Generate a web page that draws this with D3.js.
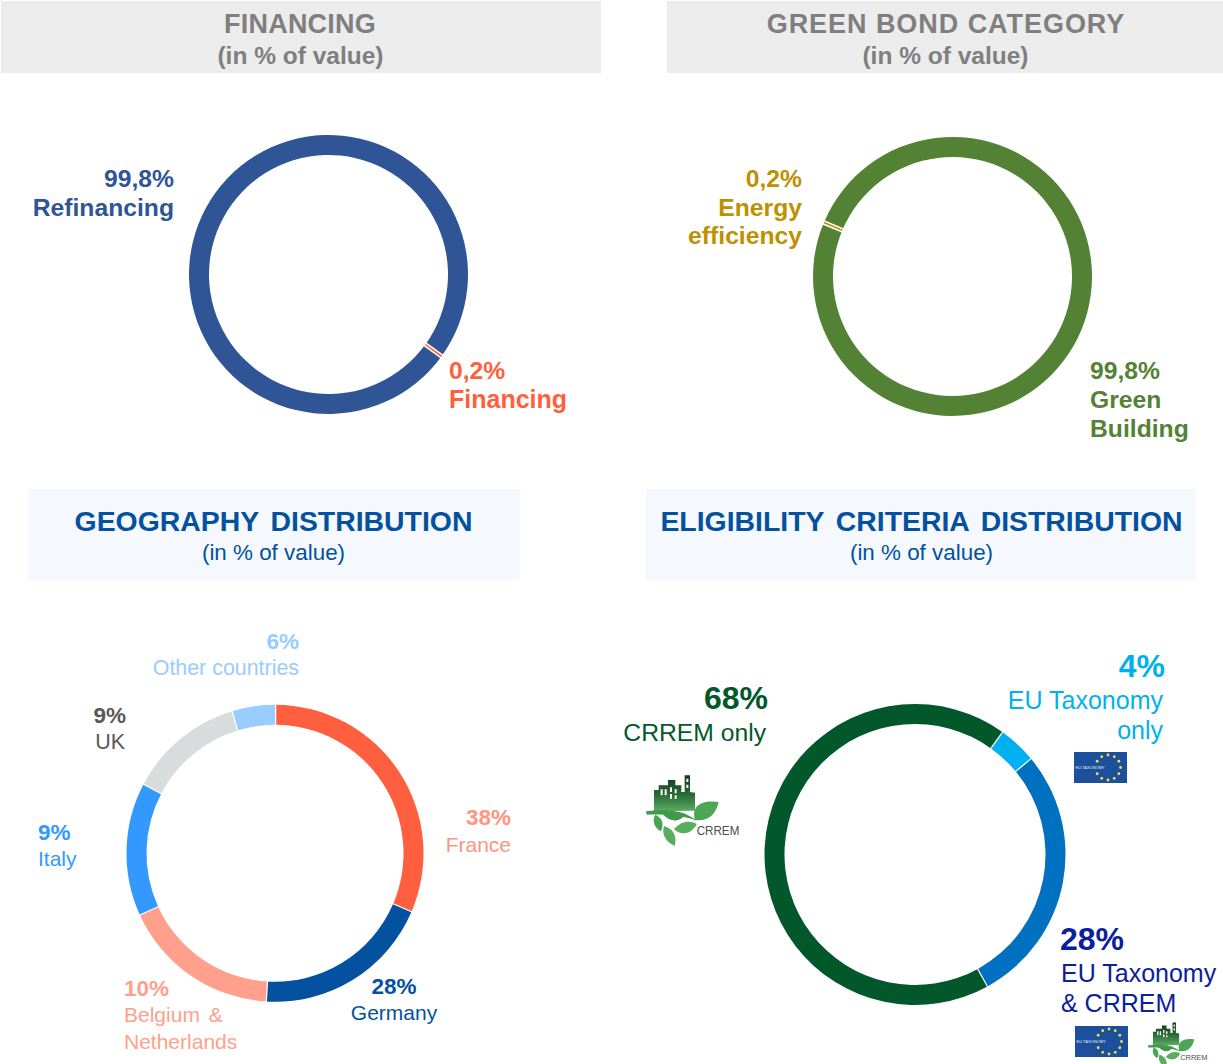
<!DOCTYPE html>
<html>
<head>
<meta charset="utf-8">
<script src="https://cdn.jsdelivr.net/npm/d3@7"></script>
<style>
  html, body { margin: 0; padding: 0; background: #fff; }
  svg { display: block; }
  text { font-family: "Liberation Sans", Arial, sans-serif; }
</style>
</head>
<body>
<script>
// Financing
var financingLabels = ["Financing", "Refinancing"];
var financingValues = [0.2, 99.8];
var financingColors = ["#ff5f3f", "#2f5597"];

// Green bond category
var categoryLabels = [["Energy", "efficiency"], ["Green", "Building"]];
var categoryValues = [0.2, 99.8];
var categoryColors = ["#bf9000", "#548235"];

// Geography: printed percentages and the share of the ring each arc takes in the picture
var geoLabels = ["France", "Germany", "Belgium &", "Netherlands", "Italy", "UK", "Other countries"];
var geoPrinted = [38, 28, 10, 9, 9, 6];
var geoArcShare = [31.5, 19.5, 17.25, 14.5, 12.65, 4.6];
var geoColors = ["#ff5f3f", "#03519f", "#ff9f8c", "#3399ff", "#d9dcdc", "#99ccff"];

// Eligibility criteria
var criteriaLabels = ["CRREM only", "EU Taxonomy", "only", "& CRREM"];
var criteriaValues = [68, 4, 28];
var criteriaColors = ["#03582b", "#00b0f0", "#0070c0"];

var svg = d3.select("body").append("svg").attr("width", 1223).attr("height", 1064);

var defs = svg.append("defs");
var grad = defs.append("linearGradient").attr("id", "crremGrad")
  .attr("x1", 0).attr("y1", 0).attr("x2", 0).attr("y2", 1);
grad.append("stop").attr("offset", "0%").attr("stop-color", "#0f3a1c");
grad.append("stop").attr("offset", "55%").attr("stop-color", "#2c6b38");
grad.append("stop").attr("offset", "100%").attr("stop-color", "#5cae62");

function panel(x, y, w, h, fill) {
  svg.append("rect").attr("x", x).attr("y", y).attr("width", w).attr("height", h).attr("fill", fill);
}

function txt(x, y, anchor, color, size, weight, s) {
  return svg.append("text")
    .attr("x", x).attr("y", y)
    .attr("text-anchor", anchor)
    .attr("fill", color)
    .attr("font-size", size)
    .attr("font-weight", weight)
    .text(s);
}

// stroke = white line painted under each slice, which opens the gaps between arcs
function ring(cx, cy, R, values, colors, startDeg, stroke) {
  var pie = d3.pie().sort(null)
    .startAngle(startDeg * Math.PI / 180)
    .endAngle((startDeg + 360) * Math.PI / 180);
  var arc = d3.arc().innerRadius(R - 20).outerRadius(R);
  var slices = pie(values);
  // biggest first, so the thin slice keeps its white edges
  slices.sort(function(a, b) { return b.value - a.value; });
  svg.append("g")
    .attr("transform", "translate(" + cx + "," + cy + ")")
    .selectAll("path")
    .data(slices)
    .enter().append("path")
    .attr("d", arc)
    .attr("fill", function(d) { return colors[d.index]; })
    .attr("stroke", "#fff")
    .attr("stroke-width", stroke)
    .style("paint-order", "stroke");
}

function euFlag(x, y) {
  var g = svg.append("g").attr("transform", "translate(" + x + "," + y + ")");
  g.append("rect").attr("width", 53).attr("height", 31).attr("fill", "#1c4f9c");
  g.selectAll("circle")
    .data(d3.range(12).filter(function(i) { return i != 9; }))
    .enter().append("circle")
    .attr("cx", function(i) { return 34 + 12.5 * Math.sin(i * Math.PI / 6); })
    .attr("cy", function(i) { return 15.5 - 12.5 * Math.cos(i * Math.PI / 6); })
    .attr("r", 1.4)
    .attr("fill", "#f3e23c");
  g.append("text").attr("x", 1.5).attr("y", 16.5)
    .attr("font-size", 4).attr("fill", "#e8eef8").text("EU TAXONOMY");
}

// drawn on a 330x240 grid, then scaled down
function crremLogo(x, y, k) {
  var g = svg.append("g").attr("transform", "translate(" + x + "," + y + ") scale(" + k + ")");
  g.append("path").attr("fill", "url(#crremGrad)")
    .attr("fill-rule", "evenodd")
    .attr("d", "M42 60 L56 60 L56 46 L84 46 L84 30 L106 30 L106 46 L124 46 L124 66 L134 66 L134 16 L150 16 L150 66 L165 68 L165 122 L42 124 Z" +
      "M62 58 h6 v18 h-6 Z M74 58 h6 v18 h-6 Z M90 52 h6 v14 h-6 Z M90 72 h6 v14 h-6 Z M104 58 h6 v12 h-6 Z M104 76 h6 v10 h-6 Z M139 26 h6 v10 h-6 Z M139 44 h6 v10 h-6 Z");
  g.append("path").attr("fill", "#3f9a4c")
    .attr("d", "M18 124 C60 118 130 116 170 152 C130 136 70 132 20 134 Z");
  g.append("path").attr("fill", "#4da654")
    .attr("d", "M165 150 C152 108 185 88 236 96 C228 134 202 156 165 150 Z");
  g.append("path").attr("fill", "#3f9a4c")
    .attr("d", "M68 132 C90 120 118 124 136 132 C122 158 88 158 68 132 Z");
  g.append("path").attr("fill", "#49a352")
    .attr("d", "M46 134 C66 142 74 162 62 184 C42 172 36 152 46 134 Z");
  g.append("path").attr("fill", "#58ad5f")
    .attr("d", "M102 178 C122 152 150 150 170 162 C156 192 124 198 102 178 Z");
  g.append("path").attr("fill", "#58ad5f")
    .attr("d", "M72 168 C100 176 112 198 104 228 C78 216 64 194 72 168 Z");
  g.append("text").attr("x", 170).attr("y", 194)
    .attr("font-size", 38).attr("fill", "#4a4f4d")
    .attr("textLength", 128).attr("lengthAdjust", "spacingAndGlyphs")
    .text("CRREM");
}

// header panels
panel(1, 1, 600, 72, "#ececec");
panel(667, 1, 556, 72, "#ececec");
panel(28, 489, 492, 91, "#f5f9fe");
panel(646, 489, 550, 91, "#f5f9fe");

txt(300, 33, "middle", "#7f7f7f", 27, "bold", "FINANCING").style("letter-spacing", "0.2px");
txt(300.5, 64, "middle", "#7f7f7f", 24.5, "bold", "(in % of value)");
txt(946, 33, "middle", "#7f7f7f", 27, "bold", "GREEN BOND CATEGORY").style("letter-spacing", "0.95px");
txt(945.5, 64, "middle", "#7f7f7f", 24.5, "bold", "(in % of value)");

txt(273.5, 531, "middle", "#03519f", 28.4, "bold", "GEOGRAPHY DISTRIBUTION").style("word-spacing", "4px");
txt(273.5, 560, "middle", "#03519f", 22.4, "normal", "(in % of value)");
txt(921.5, 531, "middle", "#03519f", 28.4, "bold", "ELIGIBILITY CRITERIA DISTRIBUTION").style("word-spacing", "4px");
txt(921.5, 560, "middle", "#03519f", 22.4, "normal", "(in % of value)");

// rings
ring(328.5, 274.5, 139.5, financingValues, financingColors, 125.5, 3);
ring(952.5, 276.5, 139.5, categoryValues, categoryColors, 292.4, 3);
ring(275, 853.3, 148.5, geoArcShare, geoColors, 0, 2.5);
ring(915, 854.5, 150.5, criteriaValues, criteriaColors, 151, 2.5);

// financing labels
txt(174, 187, "end", financingColors[1], 24.7, "bold", "99,8%");
txt(174, 216, "end", financingColors[1], 24.7, "bold", financingLabels[1]);
txt(449, 379, "start", financingColors[0], 24.7, "bold", "0,2%");
txt(449, 408, "start", financingColors[0], 25, "bold", financingLabels[0]);

// green bond labels
txt(802, 187, "end", categoryColors[0], 24.7, "bold", "0,2%");
txt(802, 216, "end", categoryColors[0], 24.7, "bold", categoryLabels[0][0]);
txt(802, 244, "end", categoryColors[0], 24.7, "bold", categoryLabels[0][1]);
txt(1090, 379, "start", categoryColors[1], 24.7, "bold", "99,8%");
txt(1090, 408, "start", categoryColors[1], 24.7, "bold", categoryLabels[1][0]);
txt(1090, 437, "start", categoryColors[1], 24.7, "bold", categoryLabels[1][1]);

// geography labels
var fmt = function(v) { return v + "%"; };
txt(511, 825, "end", "#ff9482", 22.5, "bold", fmt(geoPrinted[0]));
txt(511, 852, "end", "#ff9482", 21, "normal", geoLabels[0]);
txt(394, 994, "middle", geoColors[1], 22.5, "bold", fmt(geoPrinted[1]));
txt(394, 1020, "middle", geoColors[1], 21, "normal", geoLabels[1]);
txt(124, 996, "start", geoColors[2], 22.5, "bold", fmt(geoPrinted[2]));
txt(124, 1022, "start", geoColors[2], 21, "normal", geoLabels[2]).style("word-spacing", "3px");
txt(124, 1049, "start", geoColors[2], 21, "normal", geoLabels[3]);
txt(38, 840, "start", geoColors[3], 22.5, "bold", fmt(geoPrinted[3]));
txt(38, 866, "start", geoColors[3], 21, "normal", geoLabels[4]);
txt(126, 723, "end", "#595959", 22.5, "bold", fmt(geoPrinted[4]));
txt(125, 749, "end", "#595959", 21.5, "normal", geoLabels[5]);
txt(299, 649, "end", geoColors[5], 22.5, "bold", fmt(geoPrinted[5]));
txt(299, 675, "end", geoColors[5], 21.4, "normal", geoLabels[6]);

// eligibility labels
txt(768, 709, "end", criteriaColors[0], 32, "bold", fmt(criteriaValues[0]));
txt(766, 741, "end", criteriaColors[0], 24.7, "normal", criteriaLabels[0]);
txt(1165, 677, "end", criteriaColors[1], 32, "bold", fmt(criteriaValues[1]));
txt(1163, 709, "end", criteriaColors[1], 25, "normal", criteriaLabels[1]);
txt(1163, 739, "end", criteriaColors[1], 25, "normal", criteriaLabels[2]);
txt(1060, 950, "start", "#0a209c", 32, "bold", fmt(criteriaValues[2]));
txt(1061, 982, "start", "#0a209c", 25, "normal", criteriaLabels[1]);
txt(1061, 1012, "start", "#0a209c", 25, "normal", criteriaLabels[3]);

// logos
crremLogo(640, 770, 1 / 3);
euFlag(1074, 752);
euFlag(1075, 1026);
crremLogo(1144, 1019, 0.213);
</script>
</body>
</html>
